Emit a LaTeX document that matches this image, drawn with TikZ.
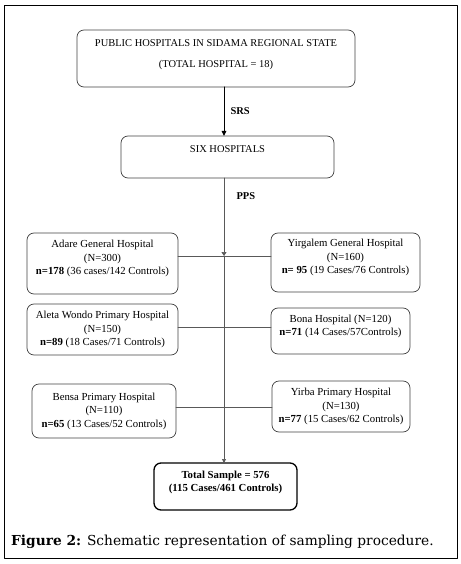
\documentclass[tikz,border=0pt]{standalone}
\usepackage{fontspec}
\setmainfont{Liberation Serif}
\newfontfamily\capfont{DejaVu Serif}
\usetikzlibrary{arrows.meta}

\begin{document}
\begin{tikzpicture}[
    x=1bp, y=-1bp,
    line cap=round,
    line join=round,
    box/.style={draw=black!75, line width=0.7bp, rounded corners=7bp,
        inner sep=0pt, outer sep=0pt, align=center,
        font=\fontsize{10.8}{13.5}\selectfont},
    lifted/.style={text depth=12bp},
    link/.style={draw=black!65, line width=0.7bp}
]
\useasboundingbox (0,0) rectangle (461,564);

% Rahmen
\draw[line width=0.8bp] (4,5) rectangle (457,558);

% Kaesten oben
\node[box, font=\fontsize{10.5}{13}\selectfont, minimum width=278bp, minimum height=57bp,
    text depth=10bp] (pub) at (216,58.5)
    {PUBLIC HOSPITALS IN SIDAMA REGIONAL STATE\\[8bp](TOTAL HOSPITAL = 18)};
\node[box, font=\fontsize{10.5}{13}\selectfont, minimum width=213bp, minimum height=42bp,
    text depth=15bp] (six) at (227.5,157)
    {SIX HOSPITALS};

% Krankenhaeuser
\node[box, lifted, minimum width=151bp, minimum height=61bp] (adare) at (102.5,263.5)
    {Adare General Hospital\\(N=300)\\\textbf{n=178} (36 cases/142 Controls)};
\node[box, lifted, minimum width=149bp, minimum height=59bp] (yirg) at (345.5,262.5)
    {Yirgalem General Hospital\\(N=160)\\\textbf{n= 95} (19 Cases/76 Controls)};
\node[box, minimum width=151bp, minimum height=51bp] (aleta) at (102.5,329.5)
    {Aleta Wondo Primary Hospital\\(N=150)\\\textbf{n=89} (18 Cases/71 Controls)};
\node[box, lifted, minimum width=139bp, minimum height=46bp] (bona) at (340.5,331)
    {Bona Hospital (N=120)\\\textbf{n=71} (14 Cases/57Controls)};
\node[box, minimum width=144bp, minimum height=54bp] (bensa) at (104,411)
    {Bensa Primary Hospital\\(N=110)\\\textbf{n=65} (13 Cases/52 Controls)};
\node[box, minimum width=138bp, minimum height=51bp] (yirba) at (341,406.5)
    {Yirba Primary Hospital\\(N=130)\\\textbf{n=77} (15 Cases/62 Controls)};

% Gesamt
\node[box, lifted, draw=black, line width=1.3bp, font=\fontsize{10.8}{13.5}\selectfont\bfseries,
    minimum width=143bp, minimum height=47bp, text depth=10bp] (total) at (225.5,486.5)
    {Total Sample = 576\\(115 Cases/461 Controls)};

% Kreuzungen
\coordinate (j1) at (224,256);
\coordinate (j2) at (224,327);
\coordinate (j3) at (224,407);

% Pfeile
\draw[line width=1bp, -{Triangle[length=5bp,width=4.5bp]}]
    (pub.south -| j1) -- (six.north -| j1);
\draw[link, -{Triangle[length=4bp,width=5bp]}] (six.south -| j1) -- (j1);
\draw[link, -{Triangle[length=4bp,width=4bp]}] (j1) -- (total.north -| j1);

% Querlinien
\draw[link] (adare.east |- j1) -- (yirg.west |- j1);
\draw[link] (aleta.east |- j2) -- (bona.west |- j2);
\draw[link] (bensa.east |- j3) -- (yirba.west |- j3);

% Beschriftungen
\node[anchor=west, font=\fontsize{10.5}{12}\selectfont\bfseries] (srs) at (227,111) {SRS};
\node[anchor=west, font=\fontsize{10.5}{12}\selectfont\bfseries] (pps) at (233,196) {PPS};

% Unterschrift
\node[anchor=base west, inner sep=0pt, font=\capfont\fontsize{13.8}{17}\selectfont] (cap) at (11,545)
    {\textbf{Figure 2:} Schematic representation of sampling procedure.};

\end{tikzpicture}
\end{document}
